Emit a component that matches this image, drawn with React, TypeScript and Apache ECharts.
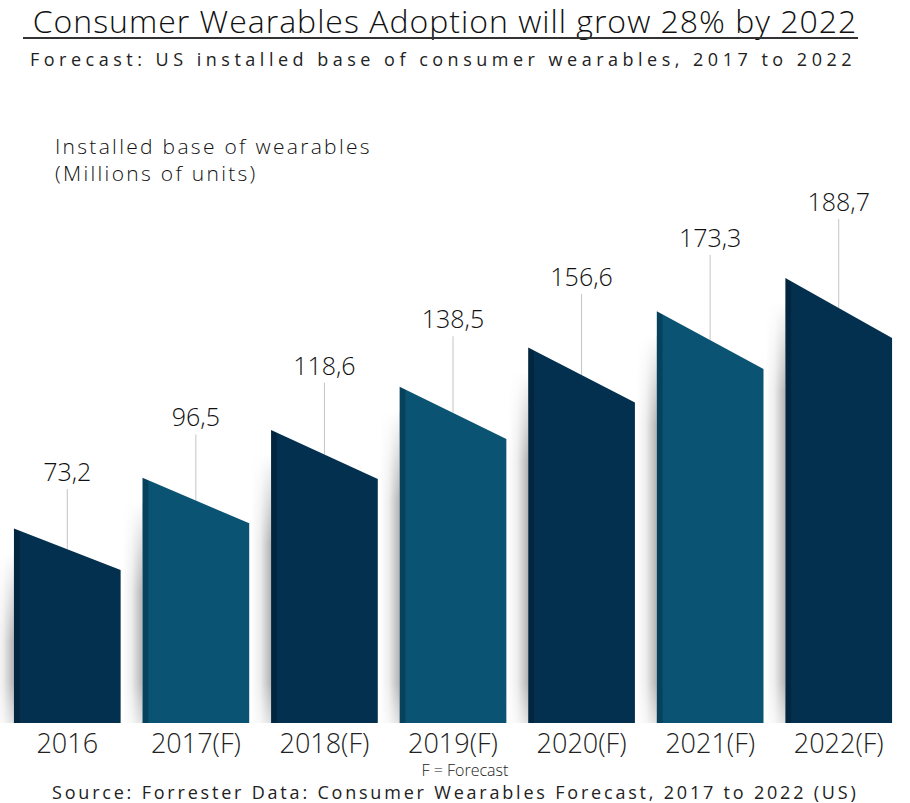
import React, { useEffect, useRef } from "react";
import * as echarts from "echarts";

const categories = ["2016", "2017(F)", "2018(F)", "2019(F)", "2020(F)", "2021(F)", "2022(F)"];
const values = [73.2, 96.5, 118.6, 138.5, 156.6, 173.3, 188.7];
const barColors = ["#04304f", "#0a5373", "#04304f", "#0a5373", "#04304f", "#0a5373", "#04304f"];
const edgeColors = ["#02263f", "#07425c", "#02263f", "#07425c", "#02263f", "#07425c", "#02263f"];

const titleText = "Consumer Wearables Adoption will grow 28% by 2022";
const subtitleText = "Forecast: US installed base of consumer wearables, 2017 to 2022";
const axisTitle1 = "Installed base of wearables";
const axisTitle2 = "(Millions of units)";
const footnote = "F = Forecast";
const sourceText = "Source: Forrester Data: Consumer Wearables Forecast, 2017 to 2022 (US)";

const fmt = (v: number) => v.toFixed(1).replace(".", ",");

export default function App() {
  const ref = useRef<HTMLDivElement>(null);
  useEffect(() => {
    if (!ref.current) return;
    const chart = echarts.init(ref.current, null, { renderer: "svg" });
    const option: any = {
      animation: false,
      backgroundColor: "#ffffff",
      grid: { left: 3, right: 7, top: 180, bottom: 80 },
      xAxis: {
        type: "category",
        data: categories,
        axisLine: { show: false },
        axisTick: { show: false },
        axisLabel: {
          margin: 6,
          fontSize: 27,
          lineHeight: 27,
          fontWeight: 300,
          color: "#222",
          fontFamily: "NarrowAxis, 'Open Sans', sans-serif",
        },
      },
      yAxis: {
        type: "value",
        min: -10,
        max: 250,
        show: false,
        splitLine: { show: false },
      },
      graphic: [
        {
          type: "text",
          x: 445,
          y: 20,
          style: {
            text: titleText,
            fontSize: 32,
            lineHeight: 32,
            fontWeight: 300,
            fontFamily: "SpacedTitle, 'Open Sans', sans-serif",
            fill: "#111",
            align: "center",
            verticalAlign: "middle",
          },
        },
        {
          type: "line",
          shape: { x1: 23, y1: 38, x2: 858, y2: 38 },
          style: { stroke: "#333", lineWidth: 2 },
        },
        {
          type: "text",
          x: 30,
          y: 59,
          style: {
            text: subtitleText,
            fontSize: 18,
            lineHeight: 18,
            fontFamily: "SpacedSub, 'Open Sans', sans-serif",
            fill: "#222",
            verticalAlign: "middle",
          },
        },
        {
          type: "text",
          x: 55,
          y: 146,
          style: {
            text: axisTitle1,
            fontSize: 21,
            lineHeight: 21,
            fontWeight: 300,
            fontFamily: "SpacedAx, 'Open Sans', sans-serif",
            fill: "#111",
            verticalAlign: "middle",
          },
        },
        {
          type: "text",
          x: 55,
          y: 173,
          style: {
            text: axisTitle2,
            fontSize: 21,
            lineHeight: 21,
            fontWeight: 300,
            fontFamily: "SpacedAx, 'Open Sans', sans-serif",
            fill: "#111",
            verticalAlign: "middle",
          },
        },
        {
          type: "text",
          x: 465,
          y: 770,
          style: {
            text: footnote,
            fontSize: 16,
            lineHeight: 16,
            fontWeight: 300,
            fontFamily: "NarrowFoot, 'Open Sans', sans-serif",
            fill: "#222",
            align: "center",
            verticalAlign: "middle",
          },
        },
        {
          type: "text",
          x: 52,
          y: 792,
          style: {
            text: sourceText,
            fontSize: 18,
            lineHeight: 18,
            fontFamily: "SpacedSrc, 'Open Sans', sans-serif",
            fill: "#222",
            verticalAlign: "middle",
          },
        },
      ],
      series: [
        {
          type: "custom",
          data: values.map((v, i) => [i, v]),
          renderItem: (params: any, api: any) => {
            const idx = api.value(0);
            const v = api.value(1);
            const c = api.coord([idx, v]);
            const band = api.size([1, 0])[0];
            const bw = band * 0.83;
            const gap = band - bw;
            const bottom = params.coordSys.y + params.coordSys.height;
            const drop = 30 + 0.16 * v;
            const x0 = c[0] - bw / 2;
            const x1 = c[0] + bw / 2;
            const yL = c[1] - drop / 2;
            const yR = c[1] + drop / 2;
            const labelY = c[1] - (60 + 0.25 * v);
            const shTop = yL + 25;
            const shW = gap - 2;
            return {
              type: "group",
              children: [
                {
                  type: "rect",
                  shape: { x: x0 - shW, y: shTop, width: shW, height: bottom - shTop },
                  style: {
                    fill: {
                      type: "linear",
                      x: 0,
                      y: 0,
                      x2: 1,
                      y2: 0,
                      colorStops: [
                        { offset: 0, color: "rgba(0,0,0,0)" },
                        { offset: 0.45, color: "rgba(0,0,0,0.07)" },
                        { offset: 1, color: "rgba(0,0,0,0.3)" },
                      ],
                    },
                  },
                },
                {
                  type: "rect",
                  shape: { x: x0 - shW - 1, y: shTop - 1, width: shW + 1, height: 90 },
                  style: {
                    fill: {
                      type: "linear",
                      x: 0,
                      y: 0,
                      x2: 0,
                      y2: 1,
                      colorStops: [
                        { offset: 0, color: "rgba(255,255,255,1)" },
                        { offset: 1, color: "rgba(255,255,255,0)" },
                      ],
                    },
                  },
                },
                {
                  type: "rect",
                  shape: { x: x0 - shW - 1, y: bottom - 40, width: shW + 1, height: 41 },
                  style: {
                    fill: {
                      type: "linear",
                      x: 0,
                      y: 0,
                      x2: 0,
                      y2: 1,
                      colorStops: [
                        { offset: 0, color: "rgba(255,255,255,0)" },
                        { offset: 1, color: "rgba(255,255,255,0.6)" },
                      ],
                    },
                  },
                },
                {
                  type: "line",
                  shape: { x1: c[0], y1: labelY + 18, x2: c[0], y2: c[1] },
                  style: { stroke: "#c4c4c4", lineWidth: 1 },
                },
                {
                  type: "polygon",
                  shape: { points: [[x0, bottom], [x0, yL], [x1, yR], [x1, bottom]] },
                  style: {
                    fill: {
                      type: "linear",
                      x: 0,
                      y: 0,
                      x2: 1,
                      y2: 0,
                      colorStops: [
                        { offset: 0, color: edgeColors[idx] },
                        { offset: 0.05, color: edgeColors[idx] },
                        { offset: 0.06, color: barColors[idx] },
                        { offset: 1, color: barColors[idx] },
                      ],
                    },
                  },
                },
                {
                  type: "text",
                  style: {
                    text: fmt(v),
                    x: c[0],
                    y: labelY,
                    align: "center",
                    verticalAlign: "middle",
                    fontSize: 25,
                    fontWeight: 300,
                    fontFamily: "'Open Sans', sans-serif",
                    fill: "#111",
                  },
                },
              ],
            };
          },
        },
      ],
    };
    chart.setOption(option);
    return () => chart.dispose();
  }, []);
  return (
    <>
      <style>{`
        text[style*="SpacedTitle"] { letter-spacing: 1px; }
        text[style*="SpacedSub"] { letter-spacing: 4.5px; }
        text[style*="SpacedSrc"] { letter-spacing: 2.8px; }
        text[style*="SpacedAx"] { letter-spacing: 2.3px; }
        text[style*="NarrowAxis"] { font-stretch: 88%; }
        text[style*="NarrowFoot"] { font-stretch: 90%; }
      `}</style>
      <div
        ref={ref}
        style={{ position: "fixed", left: 0, top: 0, width: 910, height: 803, background: "#fff" }}
      />
    </>
  );
}
